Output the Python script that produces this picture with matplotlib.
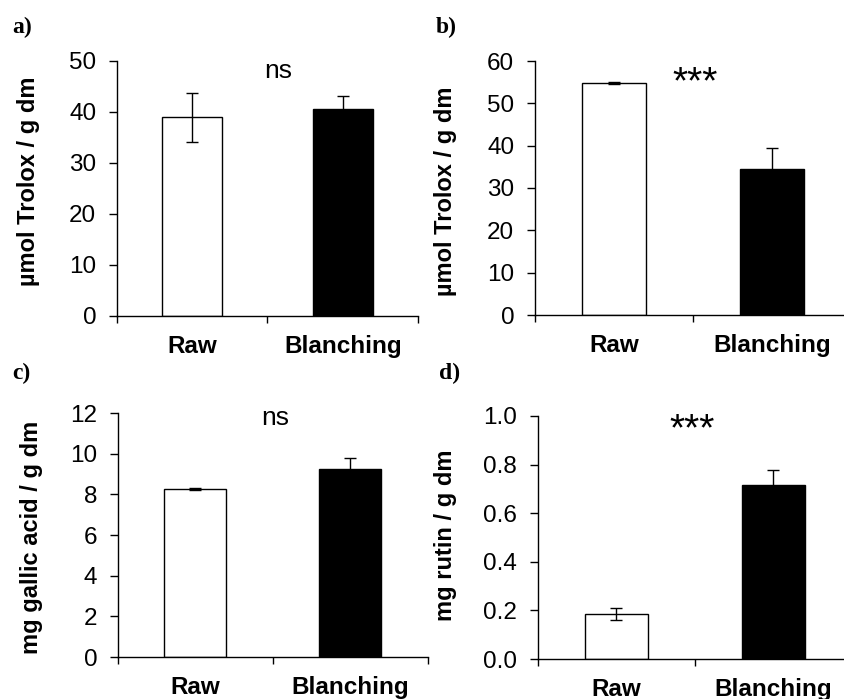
import matplotlib
matplotlib.use('Agg')
from matplotlib import pyplot as plt
from matplotlib.ticker import MultipleLocator, FormatStrFormatter

plt.rcParams['font.family'] = ['Liberation Sans', 'DejaVu Sans']

# Данные
categories = ['Raw', 'Blanching']

trolox_a = [39.0, 40.5]
trolox_a_err = [4.8, 2.7]

trolox_b = [54.8, 34.5]
trolox_b_err = [0.3, 5.0]

gallic_c = [8.27, 9.23]
gallic_c_err = [0.05, 0.55]

rutin_d = [0.185, 0.715]
rutin_d_err = [0.024, 0.062]

panels = [
    # rect (px), values, errors, ylim top, step, fmt, ylabel, label coords, mark, mark pos, letter pos
    ([117, 418, 61, 316], trolox_a, trolox_a_err, 50, 10, '%d',
     'µmol Trolox / g dm', (-0.256, 0.53), 'ns', (0.57, 46.7), 'a)', (12, 17)),
    ([535, 851, 61, 315], trolox_b, trolox_b_err, 60, 10, '%d',
     'µmol Trolox / g dm', (-0.247, 0.486), '***', (0.513, 52.3), 'b)', (436, 17)),
    ([118, 428, 413, 657], gallic_c, gallic_c_err, 12, 2, '%d',
     'mg gallic acid / g dm', (-0.242, 0.49), 'ns', (0.513, 11.4), 'c)', (12, 363)),
    ([538, 852, 416, 659], rutin_d, rutin_d_err, 1.0, 0.2, '%.1f',
     'mg rutin / g dm', (-0.258, 0.508), '***', (0.48, 0.898), 'd)', (439, 363)),
]

W, H = 845, 699
fig = plt.figure(figsize=(W / 100, H / 100), dpi=100)

for rect, vals, errs, ytop, step, fmt, ylabel, lc, mark, mpos, letter, lpos in panels:
    x0, x1, y0, y1 = rect
    ax = fig.add_axes([x0 / W, 1 - y1 / H, (x1 - x0) / W, (y1 - y0) / H])

    ax.bar([0, 1], vals, width=0.4, color=['white', 'black'],
           edgecolor='black', linewidth=1.0, zorder=2)
    ax.errorbar([0, 1], vals, yerr=errs, fmt='none', ecolor='black',
                elinewidth=1.0, capsize=4, capthick=1.0, zorder=3)

    ax.set_xlim(-0.5, 1.5)
    ax.set_ylim(0, ytop)
    ax.yaxis.set_major_locator(MultipleLocator(step))
    ax.yaxis.set_major_formatter(FormatStrFormatter(fmt))

    # тики на границах категорий, подписи по центру
    ax.set_xticks([-0.5, 0.5, 1.5])
    ax.set_xticklabels([])
    ax.set_xticks([0, 1], minor=True)
    ax.set_xticklabels(categories, minor=True, fontweight='bold', fontsize=17.5)
    ax.tick_params(axis='x', which='minor', length=0, pad=14)
    ax.tick_params(axis='x', which='major', direction='out', length=5, width=1.0)
    ax.tick_params(axis='y', direction='out', length=6, width=1.0, labelsize=17.5, pad=9)

    for side in ['top', 'right']:
        ax.spines[side].set_visible(False)
    for side in ['left', 'bottom']:
        ax.spines[side].set_linewidth(1.0)

    ax.set_ylabel(ylabel, fontweight='bold', fontsize=17)
    ax.yaxis.set_label_coords(*lc)

    fs = 19 if mark == 'ns' else 28
    ax.text(mpos[0], mpos[1], mark, ha='center', va='baseline', fontsize=fs)

    fig.text(lpos[0] / W, 1 - lpos[1] / H, letter, ha='left', va='top',
             fontsize=17, fontweight='bold', family=['Liberation Serif', 'DejaVu Serif'])

plt.savefig('out.png', dpi=100)
plt.close(fig)
